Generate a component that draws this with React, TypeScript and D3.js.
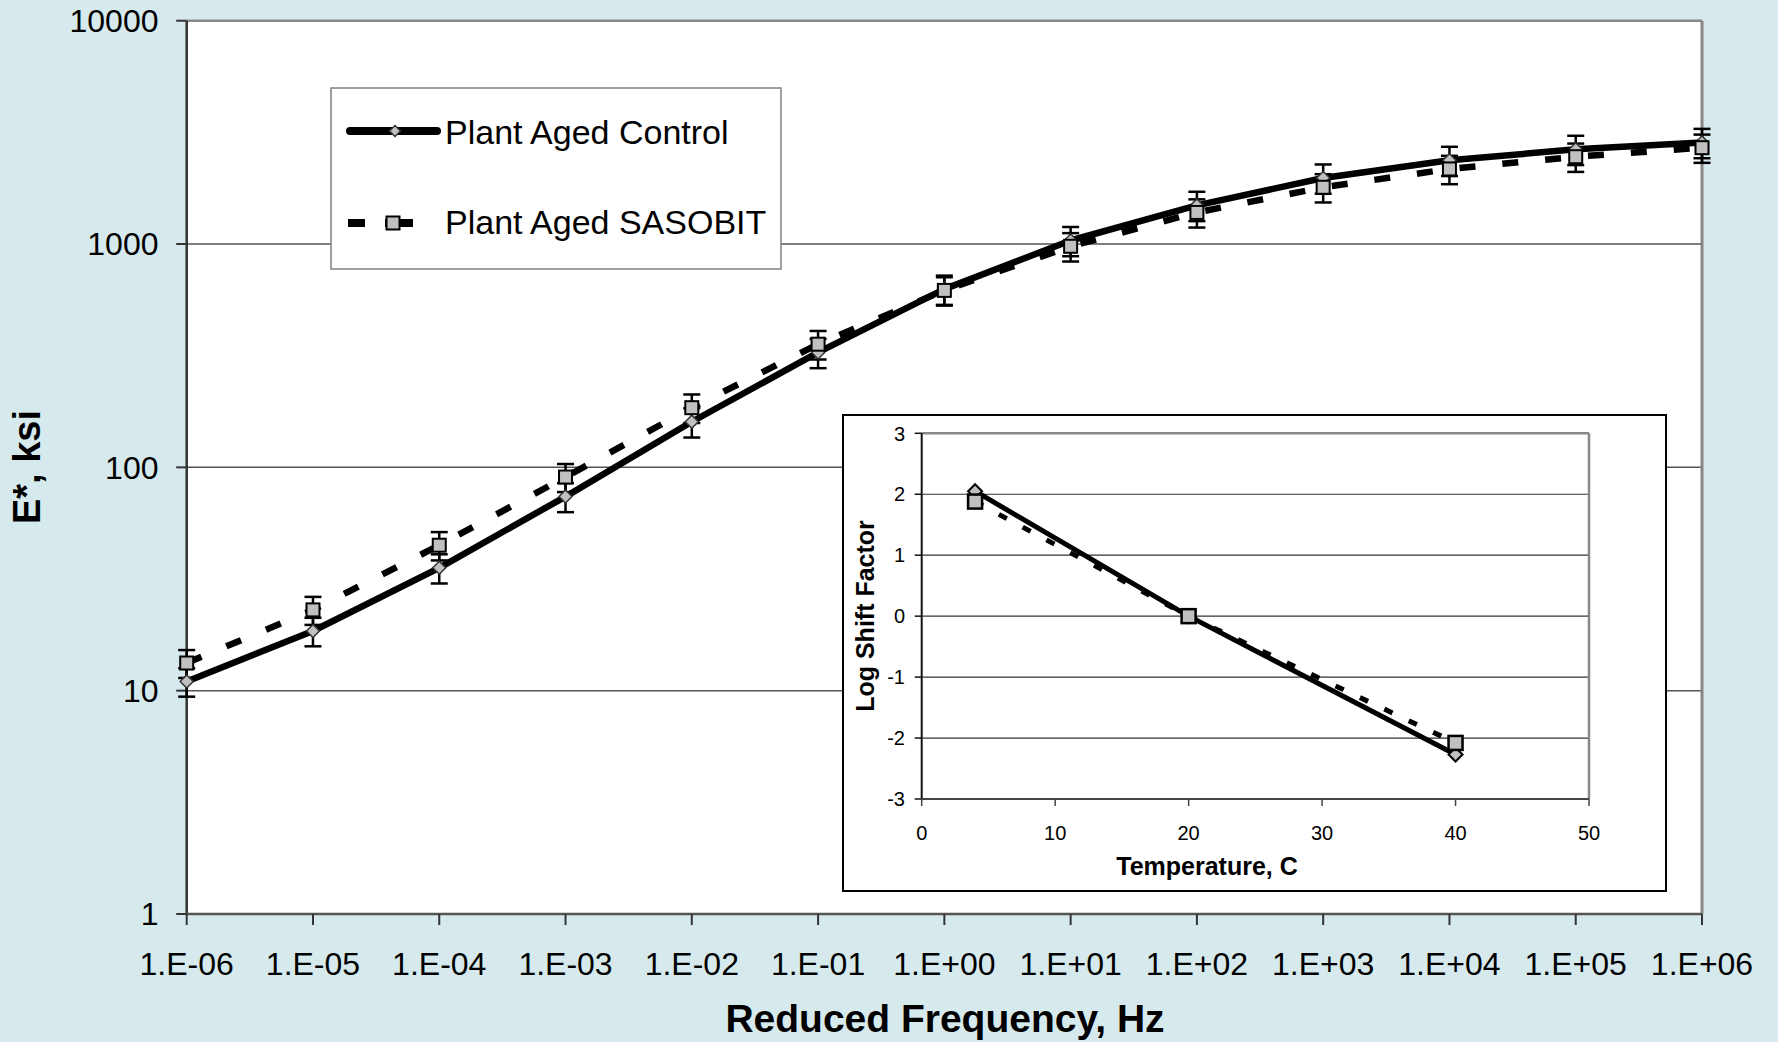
import React from "react";
import * as d3 from "d3";

// ---- Master curve data (E*, ksi vs reduced frequency) ----
const frequencyLabels = ["1.E-06", "1.E-05", "1.E-04", "1.E-03", "1.E-02", "1.E-01", "1.E+00", "1.E+01", "1.E+02", "1.E+03", "1.E+04", "1.E+05", "1.E+06"];
const frequencies = [1e-6, 1e-5, 1e-4, 1e-3, 1e-2, 1e-1, 1e0, 1e1, 1e2, 1e3, 1e4, 1e5, 1e6];
const controlModulus = [11.0, 18.5, 35.5, 74, 160, 327, 628, 1037, 1490, 1975, 2370, 2655, 2850];
const sasobitModulus = [13.3, 23.0, 44.8, 90.5, 185, 356, 620, 977, 1385, 1795, 2168, 2460, 2700];
const controlError = [1.6, 2.7, 5.3, 11, 24, 49, 94, 155, 224, 296, 355, 398, 428];
const sasobitError = [1.9, 3.3, 6.5, 13, 27, 52, 90, 142, 200, 260, 315, 357, 390];
const modulusTicks = [1, 10, 100, 1000, 10000];

// ---- Shift factor data (inset) ----
const temperatures = [4, 20, 40];
const controlShift = [2.05, 0, -2.27];
const sasobitShift = [1.88, 0, -2.08];
const temperatureTicks = [0, 10, 20, 30, 40, 50];
const shiftTicks = [-3, -2, -1, 0, 1, 2, 3];

const seriesNames = ["Plant Aged Control", "Plant Aged SASOBIT"];

const FONT = "'Liberation Sans', Arial, Helvetica, sans-serif";
const W = 1778;
const H = 1042;
const BG = "#d6eaee";
const MARKER_FILL = "#c0c0c0";

const plot = { left: 186.7, right: 1702, top: 20.7, bottom: 914 };
const inset = { x0: 843, y0: 415, x1: 1666, y1: 891, left: 921.7, right: 1589, top: 433.3, bottom: 799 };

function diamond(r: number) {
  return `M0,${-r}L${r},0L0,${r}L${-r},0Z`;
}

export default function App() {
  const x = d3.scaleLog().domain([1e-6, 1e6]).range([plot.left, plot.right]);
  const y = d3.scaleLog().domain([1, 10000]).range([plot.bottom, plot.top]);

  const ix = d3.scaleLinear().domain([0, 50]).range([inset.left, inset.right]);
  const iy = d3.scaleLinear().domain([-3, 3]).range([inset.bottom, inset.top]);

  const mainLine = d3
    .line<number>()
    .x((_, i) => x(frequencies[i]))
    .y((d) => y(d));
  const insetLine = d3
    .line<number>()
    .x((_, i) => ix(temperatures[i]))
    .y((d) => iy(d));

  const errorBars = (values: number[], errs: number[], key: string) =>
    values.map((v, i) => {
      const cx = x(frequencies[i]);
      const yHi = y(v + errs[i]);
      const yLo = y(v - errs[i]);
      return (
        <g key={`${key}-${i}`} stroke="#000" strokeWidth={2.5}>
          <line x1={cx} x2={cx} y1={yHi} y2={yLo} />
          <line x1={cx - 8.5} x2={cx + 8.5} y1={yHi} y2={yHi} />
          <line x1={cx - 8.5} x2={cx + 8.5} y1={yLo} y2={yLo} />
        </g>
      );
    });

  return (
    <svg
      width={W}
      height={H}
      style={{ position: "absolute", left: 0, top: 0, display: "block" }}
      fontFamily={FONT}
    >
      <rect x={0} y={0} width={W} height={H} fill={BG} />

      {/* plot area */}
      <rect x={plot.left} y={plot.top} width={plot.right - plot.left} height={plot.bottom - plot.top} fill="#fff" />

      {/* horizontal gridlines */}
      {modulusTicks.slice(1, -1).map((t) => (
        <line key={`g${t}`} x1={plot.left} x2={plot.right} y1={y(t)} y2={y(t)} stroke="#555" strokeWidth={1.5} />
      ))}

      {/* plot frame */}
      <line x1={plot.left} x2={plot.right} y1={plot.top} y2={plot.top} stroke="#888" strokeWidth={2.5} />
      <line x1={plot.right} x2={plot.right} y1={plot.top} y2={plot.bottom} stroke="#888" strokeWidth={3} />
      <line x1={plot.left} x2={plot.left} y1={plot.top} y2={plot.bottom} stroke="#333" strokeWidth={2.5} />
      <line x1={plot.left} x2={plot.right} y1={plot.bottom} y2={plot.bottom} stroke="#555" strokeWidth={2.5} />

      {/* y axis ticks + labels */}
      {modulusTicks.map((t) => (
        <g key={`yt${t}`}>
          <line x1={plot.left - 10.5} x2={plot.left} y1={y(t)} y2={y(t)} stroke="#333" strokeWidth={2} />
          <text x={158.5} y={y(t)} dy="0.35em" textAnchor="end" fontSize={32} fill="#000">
            {t}
          </text>
        </g>
      ))}

      {/* x axis ticks + labels */}
      {frequencies.map((f, i) => (
        <g key={`xt${i}`}>
          <line x1={x(f)} x2={x(f)} y1={plot.bottom} y2={plot.bottom + 11} stroke="#333" strokeWidth={2} />
          <text x={x(f)} y={975} textAnchor="middle" fontSize={32} fill="#000">
            {frequencyLabels[i]}
          </text>
        </g>
      ))}

      {/* axis titles */}
      <text x={945} y={1032} textAnchor="middle" fontSize={39} fontWeight="bold" fill="#000">
        Reduced Frequency, Hz
      </text>
      <text
        transform="translate(40,467) rotate(-90)"
        textAnchor="middle"
        fontSize={38}
        fontWeight="bold"
        fill="#000"
      >
        E*, ksi
      </text>

      {/* series lines */}
      <path
        d={mainLine(sasobitModulus) ?? ""}
        fill="none"
        stroke="#000"
        strokeWidth={6.5}
        strokeDasharray="16 27"
        strokeLinecap="butt"
      />
      <path
        d={mainLine(controlModulus) ?? ""}
        fill="none"
        stroke="#000"
        strokeWidth={6.5}
        strokeLinejoin="round"
        strokeLinecap="round"
      />

      {/* error bars */}
      {errorBars(controlModulus, controlError, "ce")}
      {errorBars(sasobitModulus, sasobitError, "se")}

      {/* markers */}
      {controlModulus.map((v, i) => (
        <path
          key={`cd${i}`}
          d={diamond(6.5)}
          transform={`translate(${x(frequencies[i])},${y(v)})`}
          fill={MARKER_FILL}
          stroke="#333"
          strokeWidth={1.5}
        />
      ))}
      {sasobitModulus.map((v, i) => (
        <rect
          key={`sq${i}`}
          x={x(frequencies[i]) - 6.5}
          y={y(v) - 6.5}
          width={13}
          height={13}
          fill={MARKER_FILL}
          stroke="#000"
          strokeWidth={2}
        />
      ))}

      {/* legend */}
      <g>
        <rect x={331} y={88} width={450} height={181} fill="#fff" stroke="#808080" strokeWidth={1.5} />
        <line x1={350} x2={437} y1={131} y2={131} stroke="#000" strokeWidth={8} strokeLinecap="round" />
        <path d={diamond(5.5)} transform="translate(395,131)" fill={MARKER_FILL} stroke="#333" strokeWidth={1.5} />
        <text x={445} y={144} fontSize={34} fill="#000">
          {seriesNames[0]}
        </text>

        <line x1={348} x2={413} y1={223} y2={223} stroke="#000" strokeWidth={8} strokeDasharray="17 20 28" />
        <rect x={386.5} y={216.5} width={13} height={13} fill={MARKER_FILL} stroke="#000" strokeWidth={2} />
        <text x={445} y={234} fontSize={34} fill="#000">
          {seriesNames[1]}
        </text>
      </g>

      {/* inset: log shift factor vs temperature */}
      <g>
        <rect x={inset.x0} y={inset.y0} width={inset.x1 - inset.x0} height={inset.y1 - inset.y0} fill="#fff" stroke="#000" strokeWidth={2} />

        {shiftTicks.slice(1, -1).map((t) => (
          <line key={`ig${t}`} x1={inset.left} x2={inset.right} y1={iy(t)} y2={iy(t)} stroke="#333" strokeWidth={1.2} />
        ))}

        <line x1={inset.left} x2={inset.right} y1={inset.top} y2={inset.top} stroke="#888" strokeWidth={2.5} />
        <line x1={inset.right} x2={inset.right} y1={inset.top} y2={inset.bottom} stroke="#888" strokeWidth={2.5} />
        <line x1={inset.left} x2={inset.left} y1={inset.top} y2={inset.bottom} stroke="#111" strokeWidth={2} />
        <line x1={inset.left} x2={inset.right} y1={inset.bottom} y2={inset.bottom} stroke="#444" strokeWidth={2} />

        {shiftTicks.map((t) => (
          <g key={`iyt${t}`}>
            <line x1={inset.left - 7} x2={inset.left} y1={iy(t)} y2={iy(t)} stroke="#111" strokeWidth={1.5} />
            <text x={905} y={iy(t)} dy="0.36em" textAnchor="end" fontSize={20} fill="#000">
              {t}
            </text>
          </g>
        ))}
        {temperatureTicks.map((t) => (
          <g key={`ixt${t}`}>
            <line x1={ix(t)} x2={ix(t)} y1={inset.bottom} y2={inset.bottom + 7} stroke="#444" strokeWidth={1.5} />
            <text x={ix(t)} y={840} textAnchor="middle" fontSize={20} fill="#000">
              {t}
            </text>
          </g>
        ))}

        <text x={1207} y={875} textAnchor="middle" fontSize={25} fontWeight="bold" fill="#000">
          Temperature, C
        </text>
        <text
          transform="translate(874,616) rotate(-90)"
          textAnchor="middle"
          fontSize={25}
          fontWeight="bold"
          fill="#000"
        >
          Log Shift Factor
        </text>

        <path
          d={insetLine(sasobitShift) ?? ""}
          fill="none"
          stroke="#000"
          strokeWidth={5}
          strokeDasharray="9 18"
        />
        <path
          d={insetLine(controlShift) ?? ""}
          fill="none"
          stroke="#000"
          strokeWidth={5}
          strokeLinejoin="round"
        />

        {controlShift.map((v, i) => (
          <path
            key={`icd${i}`}
            d={diamond(7)}
            transform={`translate(${ix(temperatures[i])},${iy(v)})`}
            fill={MARKER_FILL}
            stroke="#000"
            strokeWidth={2}
          />
        ))}
        {sasobitShift.map((v, i) => (
          <rect
            key={`isq${i}`}
            x={ix(temperatures[i]) - 7}
            y={iy(v) - 7}
            width={14}
            height={14}
            fill={MARKER_FILL}
            stroke="#000"
            strokeWidth={2.5}
          />
        ))}
      </g>
    </svg>
  );
}
